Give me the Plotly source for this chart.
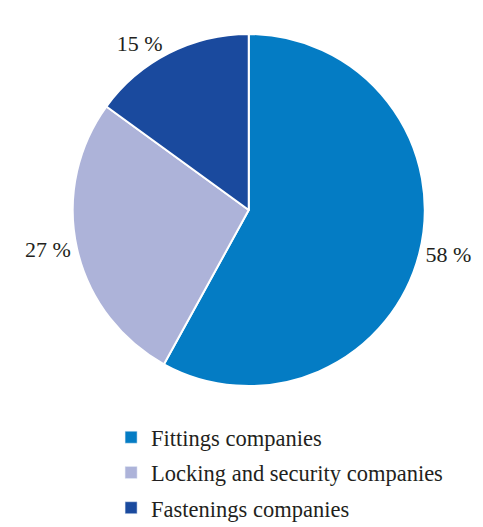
import plotly.graph_objects as go

categories = ["Fittings companies", "Locking and security companies", "Fastenings companies"]
values = [58, 27, 15]
colors = ["#047cc4", "#adb3d9", "#1a4a9e"]

FONT = "Liberation Serif, Times New Roman, serif"

fig = go.Figure()
fig.add_trace(go.Pie(
    labels=categories,
    values=values,
    sort=False,
    direction="clockwise",
    rotation=0,
    marker=dict(colors=colors, line=dict(color="white", width=2)),
    texttemplate="%{value} %",
    textposition="outside",
    textfont=dict(family=FONT, size=22, color="#231f20"),
    hoverinfo="skip",
    showlegend=False,
    domain=dict(x=[0.03, 1], y=[0.2675, 0.9355]),
))

# legend entries (one per category, so spacing between rows can be set)
for cat, col in zip(categories, colors):
    fig.add_trace(go.Bar(
        x=[None], y=[None], name=cat, marker=dict(color=col),
        legendgroup=cat, showlegend=True, hoverinfo="skip",
    ))

fig.update_layout(
    width=483, height=527,
    margin=dict(l=0, r=0, t=0, b=0, autoexpand=False),
    paper_bgcolor="white",
    plot_bgcolor="white",
    xaxis=dict(visible=False),
    yaxis=dict(visible=False),
    showlegend=True,
    legend=dict(
        x=0.23, y=-0.004, xanchor="left", yanchor="bottom",
        font=dict(family=FONT, size=22.5, color="#231f20"),
        traceorder="grouped",
        tracegroupgap=3,
        itemwidth=30,
    ),
)

fig.write_html("out.html")
